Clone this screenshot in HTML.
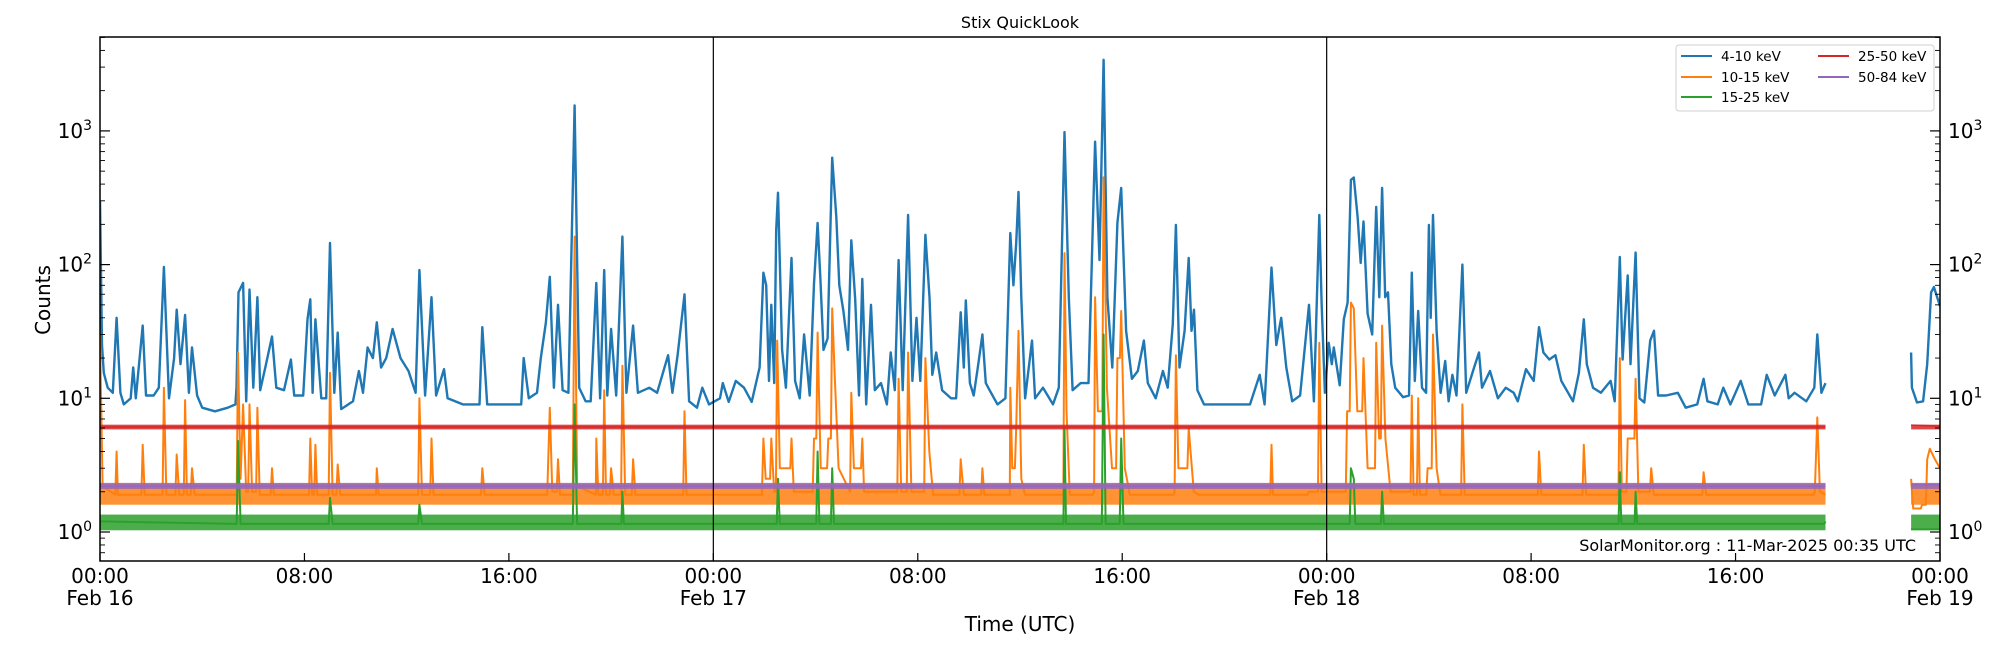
<!DOCTYPE html>
<html><head><meta charset="utf-8"><title>Stix QuickLook</title>
<style>
html,body{margin:0;padding:0;background:#fff;}
svg{display:block;font-family:"DejaVu Sans","Liberation Sans",sans-serif;}
</style></head>
<body>
<svg id="chart" width="2000" height="650" viewBox="0 0 2000 650" xmlns="http://www.w3.org/2000/svg">
<defs><clipPath id="plotclip"><rect x="100" y="37" width="1840" height="524"/></clipPath></defs>
<rect x="0" y="0" width="2000" height="650" fill="#fff"/>
<text x="1020" y="28" font-size="16" text-anchor="middle">Stix QuickLook</text>
<g id="plot" clip-path="url(#plotclip)"></g>
<g id="axes"></g>
<text transform="translate(50,300) rotate(-90)" font-size="20" text-anchor="middle">Counts</text>
<text x="1020" y="631" font-size="20" text-anchor="middle">Time (UTC)</text>
<text x="1916" y="551" font-size="16" text-anchor="end">SolarMonitor.org : 11-Mar-2025 00:35 UTC</text>
<g>
<rect x="1676" y="45" width="258" height="66" rx="3" fill="#fff" fill-opacity="0.8" stroke="#d0d0d0"/>
<g><line x1="1681" y1="56" x2="1712" y2="56" stroke="#1f77b4" stroke-width="2"/><text x="1721" y="61" font-size="13.5">4-10 keV</text></g>
<g><line x1="1681" y1="77" x2="1712" y2="77" stroke="#ff7f0e" stroke-width="2"/><text x="1721" y="82" font-size="13.5">10-15 keV</text></g>
<g><line x1="1681" y1="97" x2="1712" y2="97" stroke="#2ca02c" stroke-width="2"/><text x="1721" y="102" font-size="13.5">15-25 keV</text></g>
<g><line x1="1818" y1="56" x2="1849" y2="56" stroke="#d62728" stroke-width="2"/><text x="1858" y="61" font-size="13.5">25-50 keV</text></g>
<g><line x1="1818" y1="77" x2="1849" y2="77" stroke="#9467bd" stroke-width="2"/><text x="1858" y="82" font-size="13.5">50-84 keV</text></g>
</g>
</svg>
<script>
const blueHours=[0,0.08,0.15,0.3,0.5,0.65,0.8,0.93,1.2,1.3,1.4,1.67,1.8,2.1,2.3,2.5,2.7,2.9,3.0,3.15,3.33,3.48,3.6,3.8,4.0,4.5,5.0,5.3,5.34,5.42,5.6,5.72,5.85,6.0,6.16,6.27,6.47,6.73,6.9,7.2,7.47,7.6,7.95,8.12,8.23,8.32,8.43,8.66,8.85,9.0,9.17,9.3,9.44,9.9,10.13,10.29,10.47,10.68,10.83,11.0,11.2,11.45,11.76,12.07,12.35,12.5,12.72,12.97,13.15,13.46,13.6,14.2,14.85,14.96,15.15,16.0,16.48,16.58,16.78,17.1,17.25,17.45,17.6,17.76,17.92,18.1,18.33,18.57,18.75,19.0,19.2,19.42,19.57,19.73,19.85,20.0,20.2,20.44,20.6,20.86,21.05,21.5,21.8,22.23,22.4,22.6,22.87,23.05,23.36,23.57,23.83,24.26,24.37,24.6,24.88,25.2,25.5,25.81,25.96,26.07,26.18,26.27,26.38,26.46,26.53,26.69,26.84,27.06,27.2,27.38,27.55,27.77,27.94,28.08,28.19,28.31,28.47,28.65,28.81,28.93,29.09,29.27,29.4,29.55,29.7,29.83,29.98,30.17,30.32,30.56,30.79,30.94,31.1,31.25,31.41,31.62,31.79,31.95,32.1,32.3,32.46,32.57,32.72,32.95,33.3,33.5,33.68,33.8,33.88,34.04,34.19,34.35,34.53,34.66,34.81,35.12,35.43,35.62,35.74,35.85,35.94,36.05,36.2,36.47,36.59,36.9,37.29,37.52,37.74,37.91,38.06,38.37,38.68,38.94,39.11,39.27,39.42,39.61,39.81,39.96,40.15,40.38,40.61,40.85,41.0,41.31,41.59,41.78,41.98,42.1,42.24,42.44,42.6,42.71,42.81,42.94,43.2,44.0,45.0,45.38,45.57,45.84,46.03,46.22,46.42,46.65,46.96,47.31,47.5,47.71,47.8,47.93,48.08,48.2,48.28,48.51,48.67,48.82,48.95,49.06,49.21,49.33,49.44,49.6,49.78,49.94,50.06,50.17,50.29,50.4,50.53,50.68,50.99,51.22,51.33,51.45,51.58,51.73,51.89,52.0,52.07,52.16,52.3,52.46,52.64,52.77,52.92,53.08,53.31,53.46,53.77,53.96,54.08,54.39,54.7,55.01,55.32,55.48,55.8,56.1,56.31,56.48,56.71,56.95,57.18,57.64,57.87,58.06,58.18,58.42,58.73,59.11,59.27,59.47,59.58,59.78,59.89,60.09,60.24,60.43,60.66,60.81,60.97,61.28,61.74,62.05,62.5,62.75,62.9,63.3,63.52,63.8,64.2,64.5,65.0,65.22,65.53,65.95,66.08,66.31,66.77,67.08,67.2,67.36,67.52,null,70.87,70.9,71.1,71.34,71.5,71.65,71.76,72.0];
const blueCounts=[300,25,15.5,12,11,40,11,9,10,17,10,35,10.5,10.5,12,96,10,20,46,18,42,11,24,10.5,8.5,8,8.5,9,12,62,73,9.5,65,12,57,11.5,17,29,12,11.5,19.5,10.5,10.5,39,55,11,39,10,10,145,11,31,8.3,9.5,16,11,24,20,37,17,20,33,20,16,11,91,10.5,57,10.5,16.5,10,9,9,34,9,9,9,20,10,11,20,37,81,12,50,11.5,11,1550,12,9.5,9.5,73,10,91,10.5,33,10.5,162,11,35,11,12,11,21,11,21,60,9.5,8.5,12,9,10,13,9.4,13.5,12,9.4,17,87,70,13.5,50,13,182,345,23,12,112,13.5,10,30,10.5,72,205,78,23,28,630,228,70,45,23,152,55,10.5,78,9,50,11.5,13,9,22,11.5,108,11.5,235,13.5,40,13.5,167,57,15,22,11.5,10,10,44,17,54,13,10.5,17,30,13,11.5,9,10,172,70,145,350,57,10,27,10,12,9,12,980,57,11.5,13,13,830,108,3400,57,17,205,375,32,14,16,27,13,10,16,12,36,198,17,32,112,32,46,11.5,9,9,9,15,9,95,25,40,17,9.5,10.5,50,9.5,235,52,11,26,18,24,12.5,39,52,430,448,228,103,210,43,30,270,57,375,57,62,18,12,10.2,10.5,87,13.5,45,12,11,198,40,235,32,11,19,9.5,15,10.5,100,11,17,22,12,16,10,12,11,9.5,16.5,13.5,34,22,19.5,21,13.5,9.5,15.5,39,18,12,11,13.5,9.5,114,19.5,83,18,123,10,9.3,27,32,10.5,10.5,11,8.5,9,14,9.5,9,12,9,13.5,9,9,15,10.5,15,10,11,9.5,12,30,11,13,null,22,12,9.3,9.5,18,62,68,49];

const orangeHours=[0,0.1,0.6,0.65,0.7,1.67,1.75,2.45,2.5,2.6,3.0,3.1,3.33,3.4,3.6,3.7,5.35,5.4,5.5,5.6,5.72,5.85,5.95,6.16,6.25,6.73,6.8,8.1,8.23,8.3,8.43,8.5,8.95,9.0,9.1,9.3,9.4,10.8,10.83,10.9,12.45,12.5,12.6,12.97,13.05,14.96,15.05,17.5,17.6,17.7,17.92,18.0,18.5,18.57,18.67,19.4,19.42,19.5,19.73,19.8,20.0,20.1,20.44,20.55,20.86,20.95,22.87,22.95,23.9,25.9,25.96,26.05,26.27,26.38,26.5,26.6,27.06,27.15,27.94,28.08,28.2,28.5,28.65,28.75,28.9,29.35,29.4,29.5,29.83,29.9,31.25,31.35,31.62,31.75,32.3,32.45,32.6,33.68,33.8,34.53,34.6,35.6,35.62,35.7,35.85,35.94,36.05,36.2,37.7,37.74,37.82,37.95,38.9,38.94,39.05,39.27,39.4,39.6,39.81,39.96,40.1,40.3,42.05,42.1,42.2,42.6,42.8,43.0,45.84,45.9,47.3,47.71,47.8,48.5,48.8,48.95,49.06,49.2,49.44,49.6,49.94,50.05,50.17,50.3,50.5,51.33,51.4,51.58,51.65,51.95,52.16,52.3,52.45,53.31,53.4,56.31,56.4,58.06,58.15,59.47,59.55,59.78,60.09,60.2,60.7,60.8,62.75,62.85,67.1,67.2,67.3,67.52,null,70.87,70.95,71.3,71.5,71.6,71.8,72.0];
const orangeCounts=[30,2.2,1.9,4,1.9,4.5,1.9,1.9,12,1.9,3.8,1.9,9.7,1.9,3,1.9,1.9,22,2.5,9,2,9,2,8.5,1.9,3,1.9,1.9,5,1.9,4.5,1.9,1.9,15.5,1.9,3.2,1.9,1.9,3,1.9,1.9,10,1.9,5,1.9,3,1.9,1.9,8.5,2,3.5,1.9,1.9,162,2.2,1.9,5,1.9,11.5,1.9,3,1.9,17.5,1.9,3.5,1.9,8,1.9,1.9,1.9,5,2.5,5,2,27,3,5,2,5,31,3,5,47,15,3,2,11,3,5,2,14,2,22,2,20,4,1.9,3.5,1.9,3,1.9,1.9,12,3,6,32,2.5,1.9,1.9,122,8,1.9,2,57,8,450,12,3,20,45,3,1.9,2,21,3,6,2,1.9,4.5,1.9,2,26,2,2,8,52,47,8,20,3,26,5,35,5,2,10.5,1.9,10,1.9,3,30,3,1.9,9,1.9,4,1.9,4.5,1.9,20,2,5,14,2,3,1.9,2.8,1.9,2,7.2,2,1.9,null,2.5,1.5,1.6,3.5,4.2,3.5,3];

const greenHours=[0,5.35,5.4,5.5,8.95,9.0,9.1,12.45,12.5,12.6,18.5,18.57,18.67,20.4,20.44,20.5,26.48,26.53,26.6,28.03,28.08,28.15,28.6,28.65,28.72,37.7,37.74,37.8,39.2,39.27,39.35,39.9,39.96,40.05,48.9,48.95,49.06,49.12,50.12,50.17,50.24,59.42,59.47,59.53,60.05,60.09,60.15,67.52,null,70.87,72.0];
const greenCounts=[1.2,1.15,4.8,1.15,1.15,1.8,1.15,1.15,1.6,1.15,1.15,9,1.15,1.15,2,1.15,1.15,2.5,1.15,1.15,4,1.15,1.15,3,1.15,1.15,6,1.15,1.15,30,1.15,1.15,5,1.15,1.15,3,2.5,1.15,1.15,2,1.15,1.15,2.8,1.15,1.15,2,1.15,1.2,null,1.05,1.05];

const redHours=[0,67.52,null,70.87,72.0];
const redCounts=[6.1,6.1,null,6.3,6.2];
const purpleHours=[0,67.52,null,70.87,72.0];
const purpleCounts=[2.2,2.2,null,2.25,2.25];

// background noise band of each channel: [low, high] counts
const bandSeries=['orange','green','red','purple'];
const bandLow=[1.6,1.03,5.85,2.1];
const bandHigh=[2.3,1.35,6.35,2.33];
const segStart=[0,70.87];
const segEnd=[67.52,72.0];

const xTickHours=[0,8,16,24,32,40,48,56,64,72];
const xTickLabels=['00:00','08:00','16:00','00:00','08:00','16:00','00:00','08:00','16:00','00:00'];
const xTickDates=['Feb 16','','','Feb 17','','','Feb 18','','','Feb 19'];
const yMajor=[1,10,100,1000];
const yMajorExp=['0','1','2','3'];
const dayLines=[24,48];

const L=100,R=1940,T=37,B=561;
const X=h=>L+h*(R-L)/72;
const Y=v=>532-133.7*Math.log10(v);
const NS='http://www.w3.org/2000/svg';
const plot=document.getElementById('plot');
const axes=document.getElementById('axes');
function mk(tag,attrs,parent){const e=document.createElementNS(NS,tag);for(const k in attrs)e.setAttribute(k,attrs[k]);parent.appendChild(e);return e;}

const colors={blue:'#1f77b4',orange:'#ff7f0e',green:'#2ca02c',red:'#d62728',purple:'#9467bd'};

// spikes rise sharply: when a long gap precedes a rise, hold the previous level until just before the rise
function pathFrom(hours,vals,sharp){let d='',pen=false,ph=0,pv=0;for(let i=0;i<hours.length;i++){if(hours[i]===null||vals[i]===null){pen=false;continue;}
  if(pen&&sharp&&hours[i]-ph>0.12&&vals[i]>pv){d+='L'+X(hours[i]-0.05).toFixed(1)+','+Y(pv).toFixed(1);}
  d+=(pen?'L':'M')+X(hours[i]).toFixed(1)+','+Y(vals[i]).toFixed(1);pen=true;ph=hours[i];pv=vals[i];}return d;}

function drawBand(name){
  const i=bandSeries.indexOf(name);
  for(let s=0;s<segStart.length;s++){
    const r=mk('rect',{x:X(segStart[s]),y:Y(bandHigh[i]),width:X(segEnd[s])-X(segStart[s]),height:Y(bandLow[i])-Y(bandHigh[i]),fill:colors[name],'fill-opacity':0.85},plot);
    
    
  }
}
function drawLine(name,hours,vals,w,sharp){
  const p=mk('path',{d:pathFrom(hours,vals,sharp),fill:'none',stroke:colors[name],'stroke-width':w,'stroke-linejoin':'round'},plot);
  
  
}
drawLine('blue',blueHours,blueCounts,2.4,false);
drawBand('orange');
drawLine('orange',orangeHours,orangeCounts,2,true);
drawBand('green');
drawLine('green',greenHours,greenCounts,2,true);
drawBand('red');
drawLine('red',redHours,redCounts,1.5,false);
drawBand('purple');
drawLine('purple',purpleHours,purpleCounts,1.5,false);

dayLines.forEach(h=>{
  const l=mk('line',{x1:X(h),y1:T,x2:X(h),y2:B,stroke:'#000','stroke-width':1.2},axes);
  
  
});
const fr=mk('rect',{x:L,y:T,width:R-L,height:B-T,fill:'none',stroke:'#000','stroke-width':1.5},axes);



xTickHours.forEach((h,i)=>{
  const x=X(h);
  const t=mk('line',{x1:x,y1:B,x2:x,y2:B-8,stroke:'#000','stroke-width':1.2},axes);
  
  
  const lb=mk('text',{x:x,y:583,'font-size':20,'text-anchor':'middle'},axes);
  lb.textContent=xTickLabels[i];
  
  
  if(xTickDates[i]){
    const dl=mk('text',{x:x,y:605,'font-size':20,'text-anchor':'middle'},axes);
    dl.textContent=xTickDates[i];
    
    
  }
});
const yMin=Math.pow(10,(532-B)/133.7), yMax=Math.pow(10,(532-T)/133.7);
for(let e=-1;e<=3;e++){for(let m=1;m<=9;m++){
  const v=m*Math.pow(10,e); if(v<yMin||v>yMax)continue;
  const len=m===1?10:5, y=Y(v);
  [[L,L+len],[R,R-len]].forEach(p=>{
    const t=mk('line',{x1:p[0],y1:y,x2:p[1],y2:y,stroke:'#000','stroke-width':m===1?1.2:0.9},axes);
    
    
  });
}}
yMajor.forEach((v,i)=>{
  const y=Y(v)+7;
  [[92,'end'],[1948,'start']].forEach(p=>{
    const tx=mk('text',{x:p[0],y:y,'font-size':20,'text-anchor':p[1]},axes);
    
    
    const a=document.createElementNS(NS,'tspan');a.textContent='10';tx.appendChild(a);
    const b=document.createElementNS(NS,'tspan');b.setAttribute('dy','-8');b.setAttribute('font-size','14');b.textContent=yMajorExp[i];tx.appendChild(b);
  });
});
</script>
</body></html>
